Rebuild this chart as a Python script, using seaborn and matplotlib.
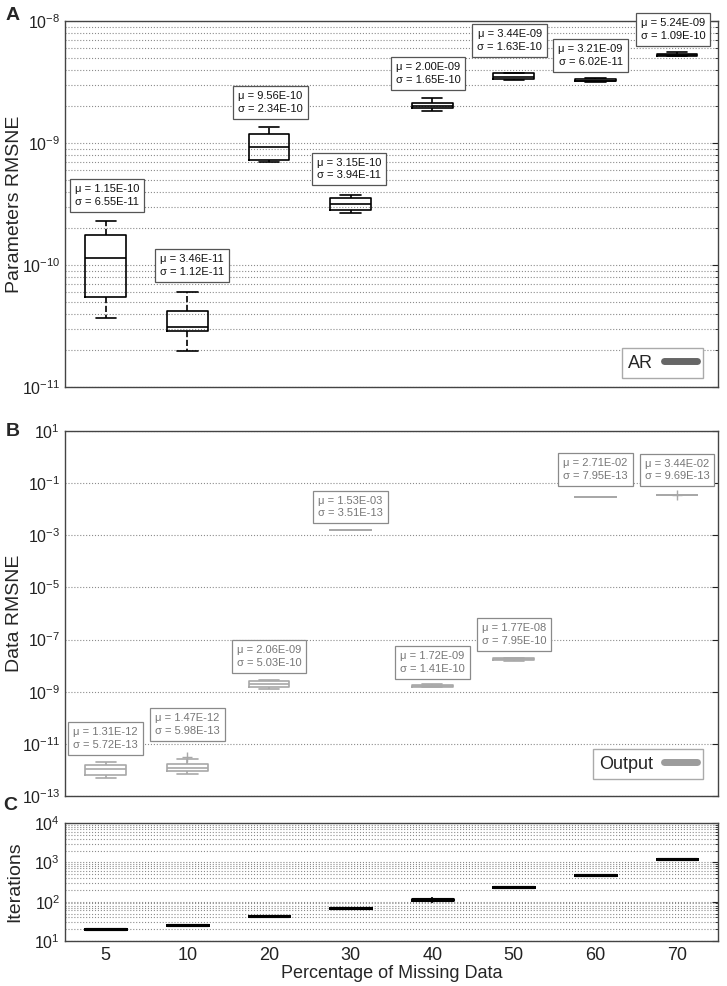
import numpy as np
import pandas as pd
import matplotlib
matplotlib.use("Agg")
import matplotlib.pyplot as plt
import seaborn as sns
from matplotlib.lines import Line2D
from matplotlib.ticker import LogLocator, FixedLocator, NullLocator, NullFormatter

pct = ["5", "10", "20", "30", "40", "50", "60", "70"]

# panel A: AR parameter RMSNE, five-number summaries
ar_low = [3.66e-11, 1.99e-11, 7.03e-10, 2.65e-10, 1.83e-9, 3.28e-9, 3.18e-9, 5.15e-9]
ar_q1 = [5.43e-11, 2.89e-11, 7.26e-10, 2.82e-10, 1.92e-9, 3.36e-9, 3.20e-9, 5.20e-9]
ar_med = [1.14e-10, 3.12e-11, 9.33e-10, 3.16e-10, 2.02e-9, 3.45e-9, 3.25e-9, 5.28e-9]
ar_q3 = [1.77e-10, 4.22e-11, 1.185e-9, 3.56e-10, 2.11e-9, 3.75e-9, 3.37e-9, 5.36e-9]
ar_high = [2.31e-10, 5.97e-11, 1.345e-9, 3.75e-10, 2.32e-9, 3.78e-9, 3.40e-9, 5.61e-9]
ar_mu = ["1.15E-10", "3.46E-11", "9.56E-10", "3.15E-10", "2.00E-09", "3.44E-09", "3.21E-09", "5.24E-09"]
ar_sd = ["6.55E-11", "1.12E-11", "2.34E-10", "3.94E-11", "1.65E-10", "1.63E-10", "6.02E-11", "1.09E-10"]

# panel B: output data RMSNE
out_low = [4.8e-13, 6.8e-13, 1.30e-9, 1.6e-3, 1.45e-9, 1.55e-8, 2.95e-2, 3.5e-2]
out_q1 = [6.4e-13, 9.1e-13, 1.47e-9, 1.6e-3, 1.55e-9, 1.60e-8, 2.95e-2, 3.5e-2]
out_med = [1.08e-12, 1.22e-12, 1.90e-9, 1.6e-3, 1.65e-9, 1.74e-8, 2.95e-2, 3.5e-2]
out_q3 = [1.55e-12, 1.64e-12, 2.57e-9, 1.6e-3, 1.80e-9, 1.90e-8, 2.95e-2, 3.5e-2]
out_high = [2.0e-12, 2.6e-12, 2.80e-9, 1.6e-3, 1.90e-9, 1.95e-8, 2.95e-2, 3.5e-2]
out_flier_pct = ["10", "70"]
out_flier = [3.2e-12, 3.5e-2]
out_mu = ["1.31E-12", "1.47E-12", "2.06E-09", "1.53E-03", "1.72E-09", "1.77E-08", "2.71E-02", "3.44E-02"]
out_sd = ["5.72E-13", "5.98E-13", "5.03E-10", "3.51E-13", "1.41E-10", "7.95E-10", "7.95E-13", "9.69E-13"]

# panel C: iterations
it_low = [19.8, 25.5, 43, 69, 94, 240, 468, 1236]
it_q1 = [19.8, 25.5, 43, 69, 112, 240, 468, 1236]
it_med = [19.8, 25.5, 43, 69, 115, 240, 468, 1236]
it_q3 = [19.8, 25.5, 43, 69, 118, 240, 468, 1236]
it_high = [19.8, 25.5, 43, 69, 134, 240, 468, 1236]

# label offsets above the top of each box (points)
a_lab_dy = [18, 19.5, 18, 18.7, 18, 23, 16.5, 16]
a_lab_dx = [1, 3.5, 1, -1, -3, -3, -3.5, -3]
b_lab_dy = [17, 23, 17, 16.5, 16, 17, 19.5, 18]


def long_df(*cols):
    rows = []
    for i, p in enumerate(pct):
        for c in cols:
            rows.append((p, c[i]))
    return pd.DataFrame(rows, columns=["pct", "value"])


dfA = long_df(ar_low, ar_q1, ar_med, ar_q3, ar_high)
dfB = long_df(out_low, out_q1, out_med, out_q3, out_high)
dfC = long_df(it_low, it_q1, it_med, it_q3, it_high)

sns.set_style("white")
plt.rcParams["font.family"] = ["Liberation Sans", "DejaVu Sans"]
plt.rcParams["mathtext.default"] = "regular"

fig = plt.figure(figsize=(7.27, 9.86), dpi=100)
axA = fig.add_axes([0.0894, 0.6075, 0.898, 0.3712])
axB = fig.add_axes([0.0894, 0.1927, 0.898, 0.3702])
axC = fig.add_axes([0.0894, 0.0456, 0.898, 0.1197])

sns.boxplot(data=dfA, x="pct", y="value", order=pct, ax=axA, width=0.5,
            whis=(0, 100), fill=False, color="black", linewidth=1.2,
            log_scale=True, showfliers=False,
            whiskerprops=dict(linestyle="--"))
sns.boxplot(data=dfB, x="pct", y="value", order=pct, ax=axB, width=0.5,
            whis=(0, 100), fill=False, color="#a8a8a8", linewidth=1.2,
            log_scale=True, showfliers=False)
sns.stripplot(x=out_flier_pct, y=out_flier, order=pct, ax=axB, jitter=False,
              marker="+", color="#a8a8a8", size=7, linewidth=1.0)
sns.boxplot(data=dfC, x="pct", y="value", order=pct, ax=axC, width=0.5,
            whis=(0, 100), fill=False, color="black", linewidth=2.2,
            log_scale=True, showfliers=False,
            whiskerprops=dict(linewidth=1.2), capprops=dict(linewidth=0))

axA.set_ylim(1e-11, 1e-8)
axB.set_ylim(1e-13, 1e1)
axC.set_ylim(1e1, 1e4)

axA.yaxis.set_major_locator(LogLocator(base=10, numticks=10))
axA.yaxis.set_minor_locator(LogLocator(base=10, subs=np.arange(2, 10), numticks=10))
axA.yaxis.set_minor_formatter(NullFormatter())
axB.yaxis.set_major_locator(FixedLocator(10.0 ** np.arange(-13, 2, 2)))
axB.yaxis.set_minor_locator(NullLocator())
axC.yaxis.set_major_locator(LogLocator(base=10, numticks=10))
axC.yaxis.set_minor_locator(LogLocator(base=10, subs=np.arange(2, 10), numticks=10))
axC.yaxis.set_minor_formatter(NullFormatter())

for ax in (axA, axB, axC):
    ax.set_xlim(-0.5, 7.5)
    ax.grid(True, which="both", axis="y", linestyle=":", color="#8c8c8c", linewidth=0.8)
    ax.set_axisbelow(True)
    ax.tick_params(axis="y", which="both", direction="in", right=True, labelsize=11.5, colors="#222222")
    ax.tick_params(axis="y", which="major", length=4)
    ax.tick_params(axis="y", which="minor", length=2)
    ax.tick_params(axis="x", length=0)
    for s in ax.spines.values():
        s.set_color("#444444")
        s.set_linewidth(1.0)
    ax.set_xlabel("")

axA.tick_params(axis="x", labelbottom=False)
axB.tick_params(axis="x", labelbottom=False)
axC.tick_params(axis="x", labelsize=13, colors="#222222", pad=4)
axC.set_xlabel("Percentage of Missing Data", fontsize=13, labelpad=1)

axA.set_ylabel("Parameters RMSNE", fontsize=14)
axB.set_ylabel("Data RMSNE", fontsize=14)
axC.set_ylabel("Iterations", fontsize=14)
for ax in (axA, axB, axC):
    ax.yaxis.set_label_coords(-0.064, 0.5)

# mean / std labels
for i in range(len(pct)):
    axA.annotate(f"\u03bc = {ar_mu[i]}\n\u03c3 = {ar_sd[i]}", xy=(i, ar_high[i]),
                 xytext=(a_lab_dx[i], a_lab_dy[i]), textcoords="offset points",
                 ha="center", va="center", fontsize=8, color="#111111",
                 linespacing=1.35, annotation_clip=False,
                 bbox=dict(boxstyle="square,pad=0.45", fc="white", ec="#555555", lw=0.9))
    top_b = max([out_high[i]] + [v for p, v in zip(out_flier_pct, out_flier) if p == pct[i]])
    axB.annotate(f"\u03bc = {out_mu[i]}\n\u03c3 = {out_sd[i]}", xy=(i, top_b),
                 xytext=(0, b_lab_dy[i]), textcoords="offset points",
                 ha="center", va="center", fontsize=8, color="#777777",
                 linespacing=1.35, annotation_clip=False,
                 bbox=dict(boxstyle="square,pad=0.45", fc="white", ec="#8a8a8a", lw=0.9))

axA.legend(handles=[Line2D([], [], color="#666666", lw=5)], labels=["AR"],
           loc="lower right", bbox_to_anchor=(0.977, 0.025), borderaxespad=0,
           markerfirst=False, fancybox=False, edgecolor="#aaaaaa", framealpha=1,
           fontsize=13, handlelength=1.8, borderpad=0.35, handletextpad=0.6)
axB.legend(handles=[Line2D([], [], color="#9c9c9c", lw=5)], labels=["Output"],
           loc="lower right", bbox_to_anchor=(0.977, 0.047), borderaxespad=0,
           markerfirst=False, fancybox=False, edgecolor="#aaaaaa", framealpha=1,
           fontsize=13, handlelength=1.8, borderpad=0.35, handletextpad=0.6)

fig.text(13 / 727, 1 - 15 / 986, "A", fontsize=14, fontweight="bold", ha="center", va="center")
fig.text(13 / 727, 1 - 432 / 986, "B", fontsize=14, fontweight="bold", ha="center", va="center")
fig.text(10 / 727, 1 - 805 / 986, "C", fontsize=14, fontweight="bold", ha="center", va="center")

fig.savefig("out.png", dpi=100)
